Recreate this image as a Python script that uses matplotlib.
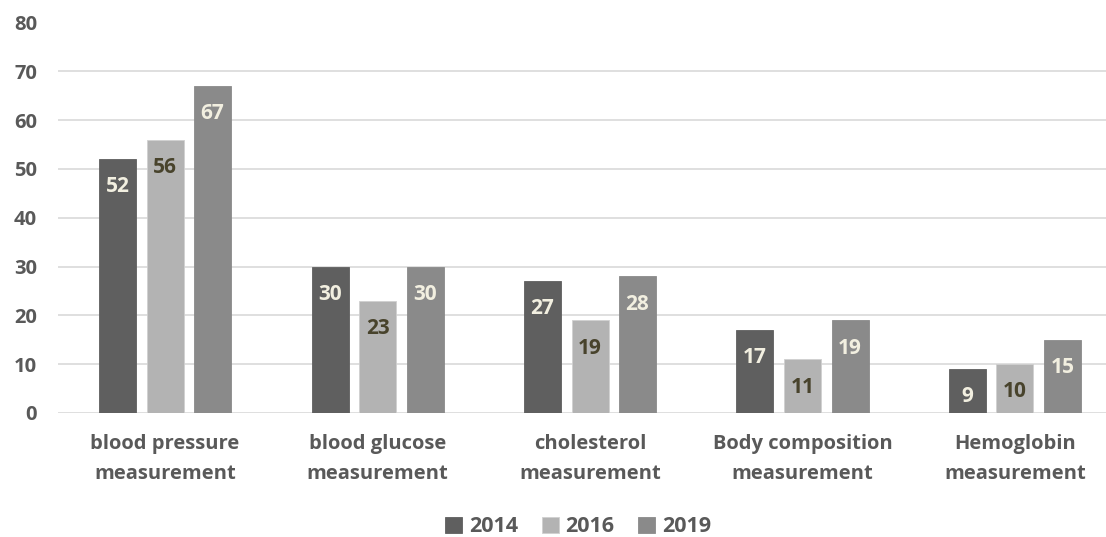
import matplotlib
matplotlib.use("Agg")
import matplotlib.pyplot as plt
import numpy as np

categories = ["blood pressure\nmeasurement", "blood glucose\nmeasurement",
              "cholesterol\nmeasurement", "Body composition\nmeasurement",
              "Hemoglobin\nmeasurement"]
years = ["2014", "2016", "2019"]
v2014 = [52, 30, 27, 17, 9]
v2016 = [56, 23, 19, 11, 10]
v2019 = [67, 30, 28, 19, 15]
yticks = [0, 10, 20, 30, 40, 50, 60, 70, 80]

colors = ["#5f5f5f", "#b3b3b3", "#8a8a8a"]
label_colors = ["#f2efe0", "#48432c", "#f2efe0"]
text_gray = "#595959"

plt.rcParams['font.family'] = ['Open Sans', 'DejaVu Sans']

W, H = 1106, 537
fig = plt.figure(figsize=(W / 100, H / 100), dpi=100)
ax_left, ax_right = 58, 1106
y0, y80 = 413, 22.5
ax = fig.add_axes([ax_left / W, 1 - y0 / H, (ax_right - ax_left) / W, (y0 - y80) / H])

pitch = 212.5
xl = (ax_left - 165) / pitch
xr = (ax_right - 165) / pitch
ax.set_xlim(xl, xr)
ax.set_ylim(0, 80)

x = np.arange(len(categories))
bw = 37 / pitch
step = 47.5 / pitch
series = [v2014, v2016, v2019]
for i, (vals, c, lc, yr) in enumerate(zip(series, colors, label_colors, years)):
    bars = ax.bar(x + (i - 1) * step, vals, width=bw, color=c, label=yr, zorder=3,
                  edgecolor="#d0d0d0" if i == 1 else c, linewidth=0.6)
    for b, v in zip(bars, vals):
        ax.annotate(str(v), (b.get_x() + b.get_width() / 2, v), xytext=(0, -20),
                    textcoords="offset points", ha="center", va="center",
                    color=lc, fontsize=15, fontweight="bold", zorder=4)

ax.set_yticks(yticks)
ax.grid(axis="y", color="#d9d9d9", linewidth=1.2, zorder=0)
ax.set_axisbelow(True)
for s in ax.spines.values():
    s.set_visible(False)
ax.tick_params(axis="y", length=0, pad=15, labelsize=14.5, labelcolor=text_gray)
ax.set_yticklabels([str(t) for t in yticks], fontweight="bold")
ax.set_xticks(x)
ax.set_xticklabels(categories, fontweight="bold", fontsize=14.5, color=text_gray,
                   linespacing=1.68)
ax.tick_params(axis="x", length=0, pad=15)

leg = fig.legend(loc="center", bbox_to_anchor=(578 / W, 1 - 527 / H), ncol=3,
                 frameon=False, handlelength=0.8, handleheight=0.8,
                 handletextpad=0.3, columnspacing=1.1,
                 prop={"weight": "bold", "size": 15.5})
for t in leg.get_texts():
    t.set_color(text_gray)

fig.savefig("out.png", dpi=100)
